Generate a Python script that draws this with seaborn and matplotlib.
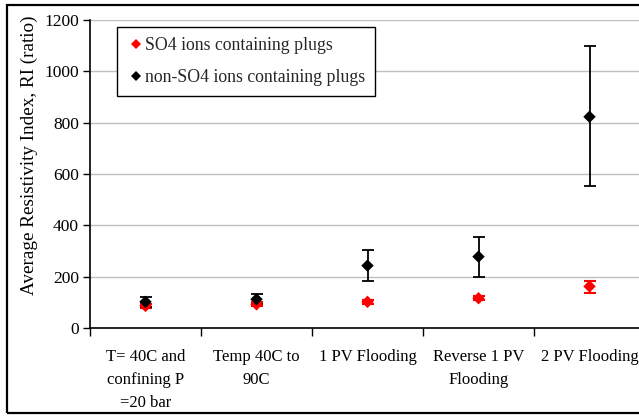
import matplotlib
matplotlib.use("Agg")
import matplotlib.pyplot as plt
import seaborn as sns
import pandas as pd
import numpy as np
from matplotlib.patches import Rectangle

categories = ["T= 40C and\nconfining P\n=20 bar", "Temp 40C to\n90C", "1 PV Flooding",
              "Reverse 1 PV\nFlooding", "2 PV Flooding"]
so4_vals = [86, 92, 102, 116, 162]
so4_lo = [78, 84, 95, 109, 138]
so4_hi = [94, 100, 109, 123, 184]
non_vals = [102, 112, 243, 278, 823]
non_lo = [82, 92, 184, 200, 554]
non_hi = [122, 132, 304, 356, 1100]
series_names = ["SO4 ions containing plugs", "non-SO4 ions containing plugs"]
yticks = [0, 200, 400, 600, 800, 1000, 1200]

sns.set_theme(style="white")
plt.rcParams['font.family'] = ['Liberation Serif', 'DejaVu Serif']

W, H = 639, 416
fig = plt.figure(figsize=(W/100, H/100), dpi=100)
ax = fig.add_axes([90/W, 1 - 328/H, 555/W, 308/H])

x = np.arange(len(categories)) + 0.5
df = pd.DataFrame({
    "x": np.concatenate([x, x]),
    "val": so4_vals + non_vals,
    "series": [series_names[0]] * 5 + [series_names[1]] * 5,
})

colors = {series_names[0]: "#ff0000", series_names[1]: "#000000"}

ax.errorbar(x, so4_vals, yerr=[np.array(so4_vals) - np.array(so4_lo), np.array(so4_hi) - np.array(so4_vals)],
            fmt="none", ecolor="#ff0000", elinewidth=1.5, capsize=4, capthick=1.5, zorder=3)
ax.errorbar(x, non_vals, yerr=[np.array(non_vals) - np.array(non_lo), np.array(non_hi) - np.array(non_vals)],
            fmt="none", ecolor="#000000", elinewidth=1.3, capsize=4.5, capthick=1.3, zorder=3)

sns.scatterplot(data=df, x="x", y="val", hue="series", palette=colors, marker="D",
                s=40, edgecolor=None, linewidth=0, ax=ax, zorder=4)

ax.set_xlim(0, 5)
ax.set_ylim(0, 1200)
ax.set_yticks(yticks)
ax.set_yticklabels([str(v) for v in yticks], fontsize=12.5)
ax.set_xticks(np.arange(0, 6))
ax.set_xticklabels([])
ax.set_xticks(x, minor=True)
ax.set_xticklabels(categories, minor=True, fontsize=12, linespacing=1.6)
ax.tick_params(axis="x", which="minor", length=0, pad=15)
ax.tick_params(axis="x", which="major", direction="out", length=6, width=1, color="black", bottom=True)
ax.tick_params(axis="y", direction="out", length=5, width=1, color="black", left=True, pad=3)
for lab in ax.get_yticklabels() + ax.get_xticklabels(minor=True):
    lab.set_color("black")

ax.yaxis.grid(True, color="#c0c0c0", linewidth=1)
ax.set_axisbelow(True)
for s in ["top", "right"]:
    ax.spines[s].set_visible(False)
for s in ["left", "bottom"]:
    ax.spines[s].set_color("black")
    ax.spines[s].set_linewidth(1.2)

ax.set_xlabel("")
ax.set_ylabel("")
fig.text(29/W, 1 - 155/H, "Average Resistivity Index, RI (ratio)", rotation=90,
         ha="center", va="center", fontsize=13.8, color="black")

leg = ax.legend(loc="upper left", bbox_to_anchor=((117-90)/555, (328-27)/308),
                frameon=True, fancybox=False, edgecolor="black", fontsize=12.8,
                handletextpad=0.05, borderpad=0.55, labelspacing=0.85, handlelength=1.0,
                markerscale=0.8, framealpha=1, borderaxespad=0)
leg.get_frame().set_linewidth(1.0)
leg.set_title(None)

fig.patches.append(Rectangle((7/W, 3/H), (650-7)/W, (411-3)/H, transform=fig.transFigure,
                             fill=False, edgecolor="black", linewidth=1.6, clip_on=False))

fig.savefig("out.png", dpi=100)
